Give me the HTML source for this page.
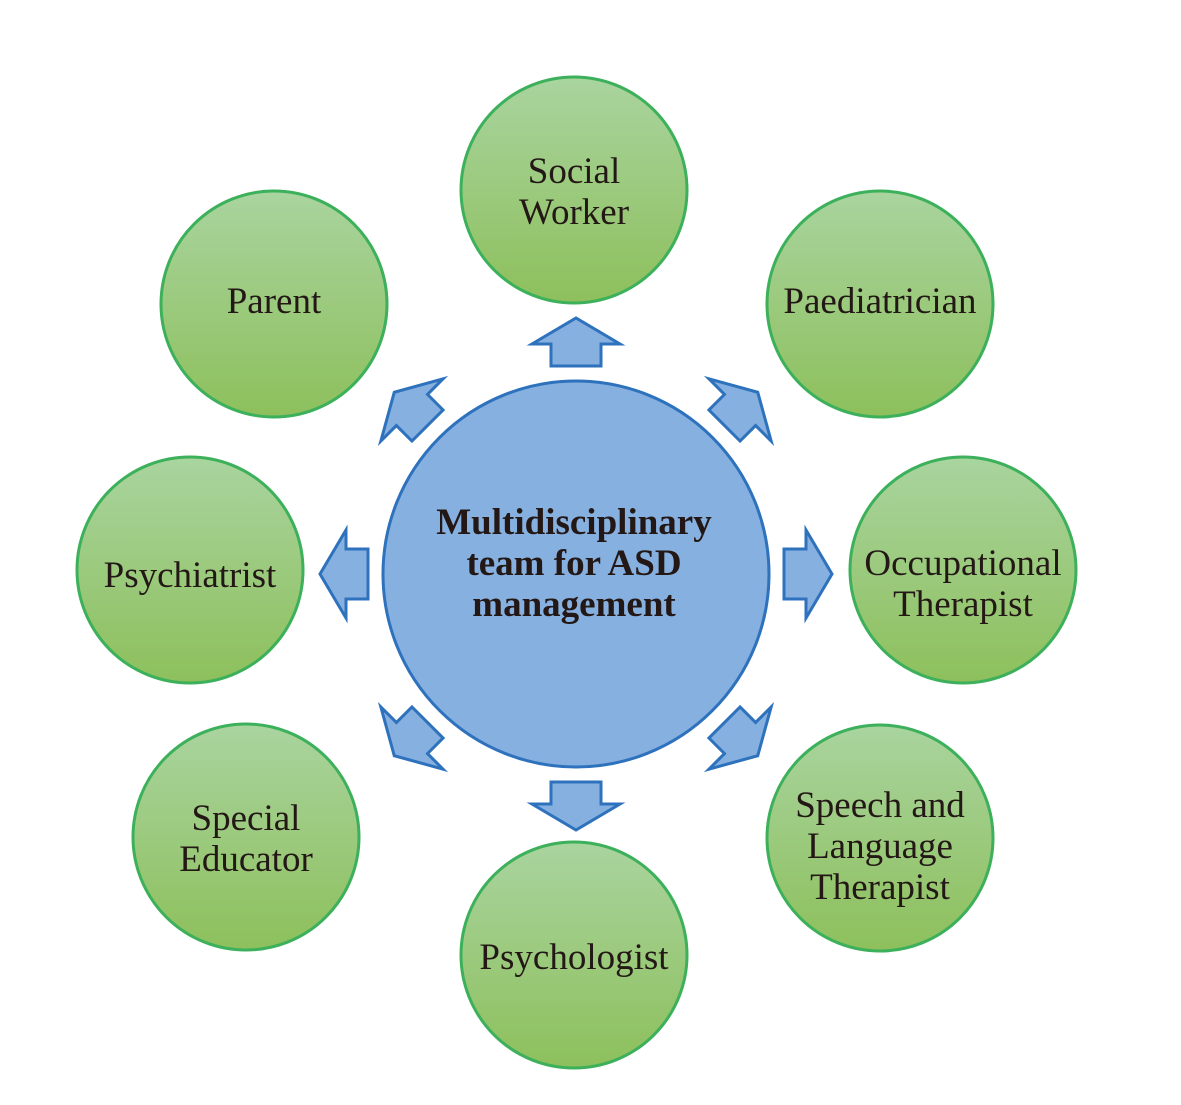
<!DOCTYPE html>
<html><head><meta charset="utf-8"><style>html,body{margin:0;padding:0;background:#fff}svg{display:block}</style></head>
<body>
<svg width="1181" height="1105" viewBox="0 0 1181 1105" xmlns="http://www.w3.org/2000/svg">
<defs>
<linearGradient id="g" x1="0" y1="0" x2="0" y2="1">
<stop offset="0" stop-color="#a9d49f"/><stop offset="1" stop-color="#8dc05c"/>
</linearGradient>
</defs>
<g stroke="#3cb05a" stroke-width="3" fill="url(#g)">
<circle cx="574" cy="190" r="113"/>
<circle cx="880" cy="304" r="113"/>
<circle cx="963" cy="570" r="113"/>
<circle cx="880" cy="838" r="113"/>
<circle cx="574" cy="955" r="113"/>
<circle cx="246" cy="837" r="113"/>
<circle cx="190" cy="570" r="113"/>
<circle cx="274" cy="304" r="113"/>
</g>
<circle cx="576" cy="574" r="193" fill="#86b0df" stroke="#2e72bd" stroke-width="3"/>
<g fill="#86b0df" stroke="#2e72bd" stroke-width="3" stroke-linejoin="miter">
<g transform="translate(576,574)">
<path d="M-25,-208 L-25,-230 L-44,-230 L0,-256 L44,-230 L25,-230 L25,-208 Z"/>
<path transform="rotate(90)" d="M-25,-208 L-25,-230 L-44,-230 L0,-256 L44,-230 L25,-230 L25,-208 Z"/>
<path transform="rotate(180)" d="M-25,-208 L-25,-230 L-44,-230 L0,-256 L44,-230 L25,-230 L25,-208 Z"/>
<path transform="rotate(270)" d="M-25,-208 L-25,-230 L-44,-230 L0,-256 L44,-230 L25,-230 L25,-208 Z"/>
<path transform="rotate(45)" d="M-22,-210 L-22,-232 L-44,-232 L0,-257 L44,-232 L22,-232 L22,-210 Z"/>
<path transform="rotate(135)" d="M-22,-210 L-22,-232 L-44,-232 L0,-257 L44,-232 L22,-232 L22,-210 Z"/>
<path transform="rotate(225)" d="M-22,-210 L-22,-232 L-44,-232 L0,-257 L44,-232 L22,-232 L22,-210 Z"/>
<path transform="rotate(315)" d="M-22,-210 L-22,-232 L-44,-232 L0,-257 L44,-232 L22,-232 L22,-210 Z"/>
</g>
</g>
<g font-family="Liberation Serif, serif" font-size="37" fill="#231815" text-anchor="middle">
<text x="574" y="183">Social</text><text x="574" y="224">Worker</text>
<text x="880" y="313">Paediatrician</text>
<text x="963" y="575">Occupational</text><text x="963" y="616">Therapist</text>
<text x="880" y="817">Speech and</text><text x="880" y="858">Language</text><text x="880" y="899">Therapist</text>
<text x="574" y="969">Psychologist</text>
<text x="246" y="830">Special</text><text x="246" y="871">Educator</text>
<text x="190" y="587">Psychiatrist</text>
<text x="274" y="313">Parent</text>
</g>
<g font-family="Liberation Serif, serif" font-size="37" font-weight="bold" fill="#231815" text-anchor="middle">
<text x="574" y="534">Multidisciplinary</text>
<text x="574" y="575">team for ASD</text>
<text x="574" y="616">management</text>
</g>
</svg>
</body></html>
